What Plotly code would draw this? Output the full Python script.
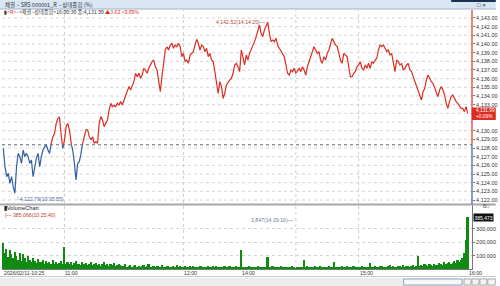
import plotly.graph_objects as go

# ---------------- data ----------------
prev_close = 4128.37
last_price = 4131.99
change = 3.62
change_pct = 0.09

price = [
    4127.96, 4125.85, 4124.69, 4125.08, 4123.92, 4124.69, 4123.54, 4122.79, 4125.85, 4127.38,
    4127.00, 4126.23, 4127.77, 4127.00, 4127.38, 4127.00, 4126.23, 4126.62, 4124.69, 4126.04,
    4126.81, 4127.38, 4125.85, 4127.00, 4127.77, 4128.15, 4128.35, 4127.77, 4127.38, 4128.62,
    4129.31, 4129.69, 4130.85, 4131.42, 4131.54, 4129.50, 4127.96, 4128.92, 4130.46, 4130.85,
    4130.08, 4128.54, 4127.77, 4126.23, 4124.31, 4126.23, 4126.42, 4127.38, 4128.54, 4129.31,
    4130.08, 4130.08, 4129.31, 4128.92, 4129.31, 4128.54, 4128.73, 4128.54, 4130.85, 4131.62,
    4131.23, 4130.46, 4130.85, 4131.23, 4132.38, 4133.15, 4132.77, 4132.96, 4132.77, 4133.15,
    4132.96, 4133.35, 4132.96, 4133.54, 4134.12, 4134.69, 4135.08, 4134.69, 4135.27, 4135.65,
    4136.62, 4136.23, 4136.62, 4136.04, 4136.42, 4137.19, 4137.00, 4136.62, 4137.19, 4137.58,
    4137.96, 4138.15, 4137.38, 4137.00, 4135.46, 4134.50, 4136.23, 4138.15, 4139.31, 4139.69,
    4139.31, 4139.88, 4140.08, 4139.50, 4139.88, 4139.69, 4140.08, 4139.69, 4138.54, 4138.92,
    4137.96, 4138.15, 4137.77, 4138.73, 4138.92, 4139.12, 4139.88, 4140.54, 4140.08, 4139.31,
    4139.88, 4139.69, 4139.12, 4139.50, 4138.54, 4138.92, 4138.15, 4137.96, 4136.81, 4135.65,
    4134.31, 4135.65, 4135.08, 4133.73, 4134.31, 4135.27, 4135.65, 4135.85, 4136.04, 4136.62,
    4137.58, 4137.77, 4137.38, 4136.81, 4139.31, 4138.54, 4137.58, 4138.73, 4138.15, 4138.92,
    4139.31, 4139.69, 4140.27, 4140.85, 4141.62, 4142.19, 4141.23, 4140.85, 4141.62, 4142.19,
    4142.52, 4141.23, 4140.27, 4140.46, 4140.27, 4140.65, 4139.88, 4139.50, 4139.12, 4138.73,
    4138.54, 4137.58, 4136.62, 4136.42, 4137.00, 4136.81, 4137.19, 4136.62, 4137.00, 4137.19,
    4136.81, 4137.38, 4137.00, 4136.42, 4137.38, 4137.96, 4138.54, 4139.12, 4139.69, 4139.31,
    4138.92, 4139.12, 4138.15, 4137.77, 4138.54, 4138.15, 4138.92, 4139.31, 4140.08, 4140.65,
    4140.27, 4139.88, 4139.69, 4138.92, 4138.15, 4137.77, 4138.92, 4138.73, 4138.54, 4137.38,
    4136.23, 4136.23, 4136.62, 4136.81, 4137.38, 4137.58, 4137.96, 4137.19, 4137.00, 4137.58,
    4137.19, 4137.77, 4137.19, 4137.96, 4137.77, 4138.15, 4138.35, 4139.31, 4139.88, 4139.69,
    4139.88, 4139.50, 4139.12, 4139.31, 4138.73, 4138.92, 4137.77, 4136.81, 4138.15, 4137.96,
    4137.58, 4137.77, 4137.00, 4137.19, 4137.58, 4137.77, 4137.00, 4136.81, 4136.23, 4135.65,
    4135.27, 4134.69, 4134.12, 4133.54, 4134.50, 4134.88, 4135.85, 4136.42, 4136.04, 4135.65,
    4135.46, 4134.88, 4134.31, 4133.92, 4134.69, 4135.08, 4134.69, 4134.12, 4133.15, 4132.58,
    4133.35, 4133.92, 4134.12, 4133.73, 4133.35, 4133.15, 4132.77, 4132.58, 4132.58, 4132.19,
    4132.77, 4131.99,
]

volume_k = (
    [195, 120, 150, 90, 140, 110, 80, 130, 100, 70, 120]
    + [60, 110, 80, 55, 95, 70, 50, 85, 60, 45, 75, 55]
    + [50, 70, 40, 60, 45, 55, 35, 65, 40, 50, 35, 45, 60, 40]
    + [165]
    + [40, 55, 35, 50, 30, 45, 60, 35, 40, 30, 50, 35, 45, 30, 40, 55, 30, 35, 45, 30,
       40, 25, 35, 50, 30, 40, 25, 35, 30, 45, 25, 30, 35]
    + [30, 20, 25, 35, 18, 22, 28, 15, 20, 30, 18, 25, 15, 22, 28, 16, 20, 35, 15, 18,
       25, 12, 20, 22, 15, 28, 18, 12, 20, 25, 15, 18, 22, 12, 30, 15, 20, 14, 18, 25,
       12, 16, 20, 15, 22, 12, 18, 14, 20, 25, 12, 15, 18, 22, 14, 12, 20, 16, 25, 12,
       15, 18, 14, 20, 12, 16, 22, 15, 18, 12, 20, 15, 18]
    + [143]
    + [12, 18, 10, 15, 20, 12, 14, 10, 16, 22, 12, 15, 10, 18, 14]
    + [92]
    + [15, 12, 20, 10, 14, 18, 12, 25, 10, 15, 12, 18, 14, 10, 20, 12, 3.847, 10, 14, 18, 12]
    + [68]
    + [14, 20, 12, 16, 10, 18, 25, 12, 15, 20, 10, 14, 18, 12, 22, 15, 12]
    + [52]
    + [15, 12, 18, 10, 22, 14, 12, 20, 16, 10, 14, 25, 12, 18, 15, 10, 20, 14, 12, 18, 16]
    + [45]
    + [18, 14, 22, 12, 16, 20, 25, 14, 18, 12, 20, 28, 15, 22, 18, 14, 25, 20, 16, 30,
       18, 22, 26, 15, 20, 28, 18, 24]
    + [98]
    + [25, 30, 20, 35, 28, 22, 38, 30, 25, 40, 32, 28, 45, 35, 30, 50, 38, 42, 55, 40,
       48, 60, 45, 68, 52, 70, 85, 120, 218, 385.473]
)
volume = [v * 1000 for v in volume_k]
idx = list(range(len(price)))

# price axis tick values (4,132.00 and 4,131.00 sit under the current-price box)
price_ticks = [4122, 4123, 4124, 4125, 4126, 4127, 4128, 4129, 4130,
               4133, 4134, 4135, 4136, 4137, 4138, 4139, 4140, 4141, 4142, 4143]
grid_ticks = list(range(4122, 4144))
volume_ticks = [100000, 200000, 300000]

time_labels = ["2026/02/11-10:25", "11:00", "12:00", "14:00", "15:00", "16:00"]
time_label_idx = [0, 37, 109, 144, 215, 281]
grid_idx = [37, 109, 177, 215]

max_label = "4,142.52(14:14:20)"
min_label = "4,122.79(10:35:55)"
vol_max_label = "385,066(10:25:40)"
vol_min_label = "3,847(14:29:10)"
title_text = "채권 ~ SRS 000001_R ~ 상태종합 (%)"

# ---------------- geometry helpers ----------------
W, H = 500, 286
ML, MR, MT, MB = 2, 24, 9, 17
PH = H - MT - MB
PW = W - ML - MR


def py(p):  # figure pixel y -> paper y
    return (H - MB - p) / PH


def px(p):  # figure pixel x -> paper x
    return (p - ML) / PW


RED = "#db2d22"
BLUE = "#33609f"
GREEN = "#118a11"
FONT = "Liberation Sans, Noto Sans CJK KR, sans-serif"

# split price line into red (>= prev close) and blue (< prev close) runs
runs = {"r": ([], []), "b": ([], [])}
for k, (x, y) in enumerate(zip(idx, price)):
    side = "r" if y >= prev_close else "b"
    if k > 0:
        x0, y0 = idx[k - 1], price[k - 1]
        s0 = "r" if y0 >= prev_close else "b"
        if s0 != side:
            xc = x0 + (prev_close - y0) / (y - y0) * (x - x0)
            runs[s0][0].extend([xc, None])
            runs[s0][1].extend([prev_close, None])
            runs[side][0].append(xc)
            runs[side][1].append(prev_close)
    runs[side][0].append(x)
    runs[side][1].append(y)

fig = go.Figure()
fig.add_trace(go.Scatter(x=runs["b"][0], y=runs["b"][1], mode="lines",
                         line=dict(color=BLUE, width=1.2), xaxis="x", yaxis="y",
                         showlegend=False, hoverinfo="skip"))
fig.add_trace(go.Scatter(x=runs["r"][0], y=runs["r"][1], mode="lines",
                         line=dict(color=RED, width=1.2), xaxis="x", yaxis="y",
                         showlegend=False, hoverinfo="skip"))
fig.add_trace(go.Bar(x=idx, y=volume, marker=dict(color=GREEN, line=dict(width=0)),
                     xaxis="x2", yaxis="y2", showlegend=False, hoverinfo="skip"))

y_lo, y_hi = 4121.54, 4143.92
x_lo, x_hi = -0.8, 283.6
p_dom = [py(204), 1.0 - (10 - MT) / PH]
v_dom = [0.0, py(205)]

fig.update_layout(
    width=W, height=H,
    margin=dict(l=ML, r=MR, t=MT, b=MB),
    paper_bgcolor="white", plot_bgcolor="white",
    bargap=0,
    font=dict(family=FONT, size=6, color="#333"),
    xaxis=dict(range=[x_lo, x_hi], domain=[0, 1], anchor="y", showticklabels=False,
               showgrid=False, zeroline=False, showline=False, ticks=""),
    xaxis2=dict(range=[x_lo, x_hi], domain=[0, 1], anchor="y2", matches="x",
                showticklabels=False, showgrid=False, zeroline=False,
                showline=True, linecolor="#777", linewidth=1, ticks=""),
    yaxis=dict(domain=p_dom, range=[y_lo, y_hi], side="right", anchor="x",
               tickvals=price_ticks, tickformat=",.2f", showgrid=False,
               zeroline=False, showline=False, ticks="outside", ticklen=2,
               tickcolor="#777", tickfont=dict(size=5.5, color="#333")),
    yaxis2=dict(domain=v_dom, range=[0, 477600], side="right", anchor="x2",
                tickvals=volume_ticks, tickformat=",d", showgrid=True,
                gridcolor="#d4d4d4", griddash="dot", gridwidth=1, zeroline=False,
                showline=True, linecolor="#777", linewidth=1,
                ticks="outside", ticklen=2, tickcolor="#777",
                tickfont=dict(size=5.5, color="#333")),
)

shapes = []
# horizontal price grid (every 1.00, including levels whose label is covered)
for g in grid_ticks:
    shapes.append(dict(type="line", xref="paper", yref="y", x0=0, x1=1, y0=g, y1=g,
                       line=dict(color="#d4d4d4", width=1, dash="dot"), layer="below"))
# title bar
shapes.append(dict(type="rect", xref="paper", yref="paper", x0=px(0), x1=px(W),
                   y0=py(9), y1=py(0), fillcolor="#d9e6f3", line=dict(width=0), layer="below"))
shapes.append(dict(type="line", xref="paper", yref="paper", x0=px(0), x1=px(W),
                   y0=py(9), y1=py(9), line=dict(color="#9fb4cc", width=1)))
shapes.append(dict(type="rect", xref="paper", yref="paper", x0=px(455), x1=px(W),
                   y0=py(2), y1=py(0), fillcolor="#1d2f55", line=dict(width=0)))
# pane separator
shapes.append(dict(type="line", xref="paper", yref="paper", x0=px(0), x1=px(W),
                   y0=py(204.5), y1=py(204.5), line=dict(color="#a8a8a8", width=2)))
# vertical grid lines
for g in grid_idx:
    shapes.append(dict(type="line", xref="x", yref="paper", x0=g, x1=g,
                       y0=0, y1=p_dom[1], line=dict(color="#cfcfcf", width=1, dash="dot"),
                       layer="below"))
# prev close reference line
shapes.append(dict(type="line", xref="paper", yref="y", x0=0, x1=1,
                   y0=prev_close, y1=prev_close, line=dict(color="#666", width=1, dash="dot")))
# right axis line: red above prev close, blue below
shapes.append(dict(type="line", xref="paper", yref="y", x0=1, x1=1,
                   y0=prev_close, y1=y_hi, line=dict(color=RED, width=1.2)))
shapes.append(dict(type="line", xref="paper", yref="y", x0=1, x1=1,
                   y0=y_lo, y1=prev_close, line=dict(color=BLUE, width=1.2)))
# current price box
shapes.append(dict(type="rect", xref="paper", yref="paper", x0=1, x1=px(500),
                   y0=py(120), y1=py(107.5), fillcolor=RED, line=dict(width=0)))
# bottom scroll bar
shapes.append(dict(type="line", xref="paper", yref="paper", x0=px(0), x1=px(W),
                   y0=py(276.5), y1=py(276.5), line=dict(color="#c8c8c8", width=1)))
shapes.append(dict(type="rect", xref="paper", yref="paper", x0=px(0), x1=px(W),
                   y0=py(286), y1=py(278), fillcolor="#ececec", line=dict(width=0)))
shapes.append(dict(type="rect", xref="paper", yref="paper", x0=px(407), x1=px(466),
                   y0=py(285), y1=py(279), fillcolor="#f8f8f8",
                   line=dict(color="#8fa6c4", width=1)))
for bx in (468, 476, 484):
    shapes.append(dict(type="rect", xref="paper", yref="paper", x0=px(bx), x1=px(bx + 7),
                       y0=py(285), y1=py(279), fillcolor="#f4f4f4",
                       line=dict(color="#888", width=0.6)))
shapes.append(dict(type="rect", xref="paper", yref="paper", x0=px(492), x1=px(499.5),
                   y0=py(285), y1=py(279), fillcolor="#f4f4f4",
                   line=dict(color="#888", width=0.6)))
fig.update_layout(shapes=shapes)

ann = []
ann.append(dict(xref="paper", yref="paper", x=px(3), y=py(4.5), xanchor="left",
                yanchor="middle", text=title_text, showarrow=False,
                font=dict(size=5.5, color="#333", family="Noto Sans CJK KR")))
ann.append(dict(xref="paper", yref="paper", x=px(486), y=py(4.5), xanchor="center",
                yanchor="middle", text="□ ×", showarrow=False,
                font=dict(size=6, color="#222")))
ann.append(dict(xref="paper", yref="paper", x=px(2), y=py(12.5), xanchor="left",
                yanchor="middle", showarrow=False,
                text=("<b>▮</b><span style='color:#d03a2a'>&lt;R&gt;</span>·&lt;채권~상태종합&gt;16:00:30 종:"
                      f"{last_price:,.2f} <span style='color:{RED}'>▲{change:.2f} +{change_pct:.2f}%</span>"),
                font=dict(size=5.2, color="#333", family="Noto Sans CJK KR")))
# max / min labels
imax = price.index(max(price))
imin = price.index(min(price))
ann.append(dict(x=imax, y=max(price), xref="x", yref="y", xanchor="right", yanchor="middle",
                text=max_label + "—", showarrow=False, font=dict(size=5.2, color="#b2473d")))
ann.append(dict(x=imin, y=min(price), xref="x", yref="y", xanchor="left", yanchor="top",
                xshift=-1, yshift=-1, text="└" + min_label, showarrow=False,
                font=dict(size=5.2, color="#4a6a9a")))
# current price box text
ann.append(dict(xref="paper", yref="paper", x=px(478), y=py(110.5), xanchor="left",
                yanchor="middle", text=f"{last_price:,.2f}", showarrow=False,
                font=dict(size=4.8, color="white")))
ann.append(dict(xref="paper", yref="paper", x=px(478), y=py(116.8), xanchor="left",
                yanchor="middle", text=f"+{change_pct:.2f}%", showarrow=False,
                font=dict(size=4.8, color="white")))
# volume labels
ann.append(dict(xref="paper", yref="paper", x=px(2), y=py(207.5), xanchor="left",
                yanchor="middle", text="<b>▮</b>VolumeChart", showarrow=False,
                font=dict(size=5.5, color="#222")))
ann.append(dict(xref="paper", yref="paper", x=px(3), y=py(214.5), xanchor="left",
                yanchor="middle", text="|— " + vol_max_label, showarrow=False,
                font=dict(size=5.2, color="#c0392b")))
ann.append(dict(xref="paper", yref="paper", x=px(299), y=py(219.5), xanchor="right",
                yanchor="middle", text=vol_min_label + "—", showarrow=False,
                font=dict(size=5.2, color="#6b7f99")))
ann.append(dict(x=1, y=volume[-1], xref="paper", yref="y2", xanchor="left", yanchor="middle",
                xshift=1, text=f"{int(round(volume[-1])):,}", showarrow=False,
                bgcolor="#111", borderpad=0.5, font=dict(size=5, color="white")))
ann.append(dict(xref="paper", yref="paper", x=px(490), y=py(205.5), xanchor="center",
                yanchor="middle", text="B□", showarrow=False,
                font=dict(size=5, color="#555")))
# time labels
for lab, i in zip(time_labels, time_label_idx):
    ann.append(dict(x=i, y=py(273), xref="x", yref="paper", xanchor="left", yanchor="middle",
                    xshift=-1, text=lab, showarrow=False, font=dict(size=5.2, color="#333")))
fig.update_layout(annotations=ann)

fig.write_html("out.html")
